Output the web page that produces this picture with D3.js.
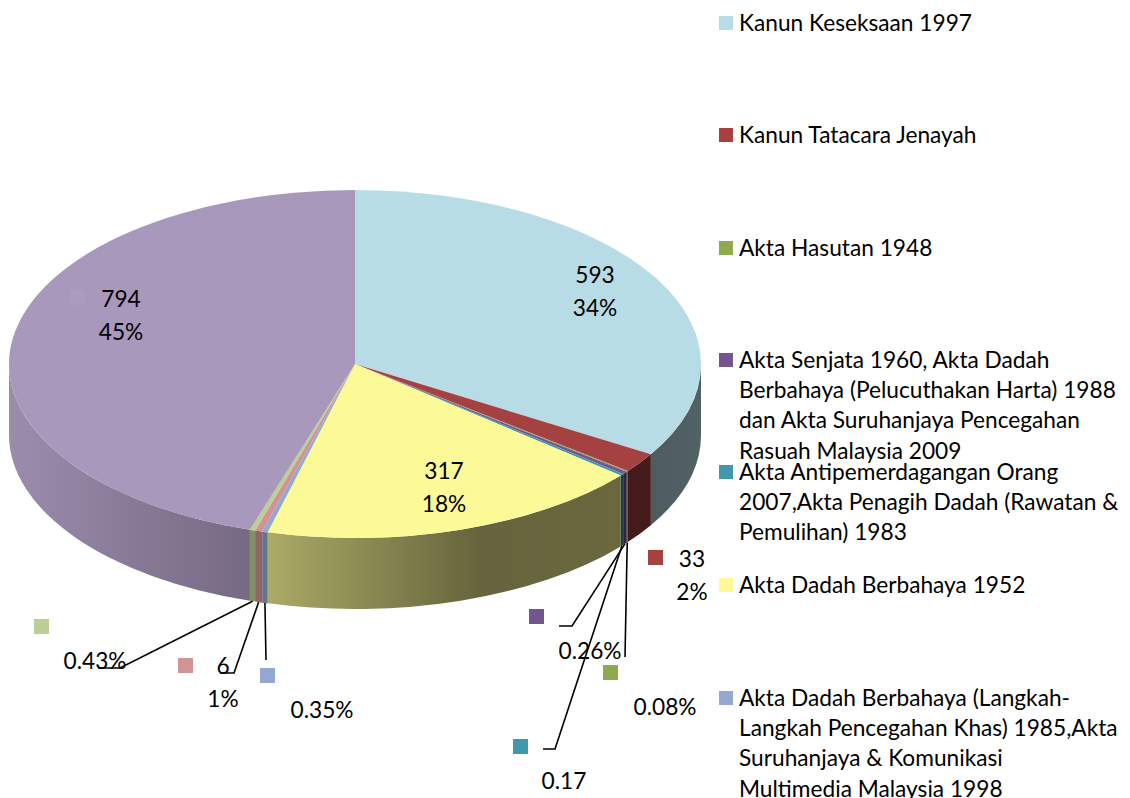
<!DOCTYPE html>
<html>
<head>
<meta charset="utf-8">
<script src="https://cdn.jsdelivr.net/npm/d3@7"></script>
<style>
  html, body { margin: 0; padding: 0; background: #fff; overflow: hidden; }
  text { font-family: Lato, "Open Sans", sans-serif; font-size: 22.7px; fill: #000; }
</style>
</head>
<body>
<div id="chart-area"></div>
<script>
// Data
var sliceNames = ["Kanun Keseksaan 1997", "Kanun Tatacara Jenayah", "Akta Hasutan 1948",
    "Akta Senjata", "Akta Antipemerdagangan", "Akta Dadah Berbahaya 1952",
    "Akta Dadah Berbahaya (Langkah)", "Lain 1", "Lain 2", "Lain 3"];
var sliceValues = [593, 33, 1.4, 4.6, 3, 317, 4.6, 6, 4.4, 794];
var sliceColors = ["#B7DCE6", "#A54141", "#8FA94F", "#72578E", "#4197AE",
    "#FCFA96", "#93A9D1", "#D19393", "#B9CF94", "#A898BB"];
var labelLines = [["593", "34%"], ["33", "2%"], ["0.08%"], ["0.26%"], ["0.17"],
    ["317", "18%"], ["0.35%"], ["6", "1%"], ["0.43%"], ["794", "45%"]];

var legendLines = [
    ["Kanun Keseksaan 1997"],
    ["Kanun Tatacara Jenayah"],
    ["Akta Hasutan 1948"],
    ["Akta Senjata 1960, Akta Dadah", "Berbahaya (Pelucuthakan Harta) 1988", "dan Akta Suruhanjaya Pencegahan", "Rasuah Malaysia 2009"],
    ["Akta Antipemerdagangan Orang", "2007,Akta Penagih Dadah (Rawatan &", "Pemulihan) 1983"],
    ["Akta Dadah Berbahaya 1952"],
    ["Akta Dadah Berbahaya (Langkah-", "Langkah Pencegahan Khas) 1985,Akta", "Suruhanjaya & Komunikasi", "Multimedia Malaysia 1998"]
];

// Layout
var width = 1130, height = 798;
var cx = 355, cy = 364, rx = 346, ry = 174, depth = 71;
var legendY = [23, 135, 248, 360, 472, 585, 698];
var labelPos = [[595, 275], [692, 559], [665, 707], [590, 651], [564, 781],
    [444, 471], [322, 710], [223, 666], [95, 661], [121, 299]];
var keyPos = [[544, 265], [648, 550], [603, 665], [529, 609], [513, 739],
    [392, 462], [260, 668], [178, 658], [34, 619], [70, 290]];
var leaderPts = { 2: [[625, 657]], 3: [[572, 626], [559, 626]], 4: [[555, 749], [543, 749]],
    6: [[266, 660]], 7: [[234, 673], [220, 673]], 8: [[120, 668], [98, 668]] };

var svg = d3.select("#chart-area")
    .append("svg")
        .attr("width", width)
        .attr("height", height)
        .style("display", "block");

var pie = d3.pie().sort(null).value(function(d){ return d; });
var arcs = pie(sliceValues);
var arc = d3.arc().innerRadius(0).outerRadius(rx);

function rim(angle, dy) {
    return [cx + rx * Math.sin(angle), cy - ry * Math.cos(angle) + (dy || 0)];
}

// Shading of the side wall, by x position
var shade = d3.scaleLinear()
    .domain([9, 270, 480, 650, 700])
    .range([0.92, 0.68, 0.40, 0.42, 0.44]);

var defs = svg.append("defs");
arcs.forEach(function(a, i){
    var grad = defs.append("linearGradient")
        .attr("id", "side" + i)
        .attr("gradientUnits", "userSpaceOnUse")
        .attr("x1", 9).attr("x2", 700).attr("y1", 0).attr("y2", 0);
    shade.domain().forEach(function(x){
        var c = d3.rgb(sliceColors[i]);
        var k = shade(x);
        grad.append("stop")
            .attr("offset", (x - 9) / 691)
            .attr("stop-color", d3.rgb(c.r * k, c.g * k, c.b * k).formatHex());
    });
});

// Side walls (only the front half can be seen)
var walls = svg.append("g");
arcs.forEach(function(a, i){
    var start = Math.max(a.startAngle, Math.PI / 2);
    var end = Math.min(a.endAngle, Math.PI * 1.5);
    if (start >= end) return;
    var p0 = rim(start), p1 = rim(end), p2 = rim(end, depth), p3 = rim(start, depth);
    walls.append("path")
        .attr("fill", "url(#side" + i + ")")
        .attr("d", "M" + p0 + "A" + rx + "," + ry + " 0 0 1 " + p1 +
            "L" + p2 + "A" + rx + "," + ry + " 0 0 0 " + p3 + "Z");
});

// Top of the pie
svg.append("g")
    .attr("transform", "translate(" + cx + "," + cy + ") scale(1," + (ry / rx) + ")")
    .selectAll("path")
    .data(arcs)
    .enter().append("path")
        .attr("d", arc)
        .attr("fill", function(d, i){ return sliceColors[i]; });

// Leader lines
var line = d3.line();
Object.keys(leaderPts).forEach(function(i){
    var a = arcs[i];
    var start = rim((a.startAngle + a.endAngle) / 2, depth);
    svg.append("path")
        .attr("d", line([start].concat(leaderPts[i])))
        .attr("fill", "none")
        .attr("stroke", "#000")
        .attr("stroke-width", 1.6);
});

// Data label keys
svg.append("g").selectAll("rect")
    .data(keyPos)
    .enter().append("rect")
        .attr("x", function(d){ return d[0]; })
        .attr("y", function(d){ return d[1]; })
        .attr("width", 15)
        .attr("height", 15)
        .attr("fill", function(d, i){
            // keys on top of their own slice are only a bit lighter
            var onPie = [0, 5, 9].indexOf(i) > -1;
            return onPie ? d3.interpolateRgb(sliceColors[i], "#fff")(0.03) : sliceColors[i];
        });

// Data labels
labelLines.forEach(function(lines, i){
    lines.forEach(function(t, j){
        svg.append("text")
            .attr("x", labelPos[i][0])
            .attr("y", labelPos[i][1] + j * 33)
            .attr("dy", "0.35em")
            .attr("text-anchor", "middle")
            .text(t);
    });
});

// Legend
legendLines.forEach(function(lines, i){
    svg.append("rect")
        .attr("x", 719)
        .attr("y", legendY[i] - 7)
        .attr("width", 14)
        .attr("height", 14)
        .attr("fill", sliceColors[i]);
    lines.forEach(function(t, j){
        svg.append("text")
            .attr("x", 739)
            .attr("y", legendY[i] + j * 30.2)
            .attr("dy", "0.35em")
            .text(t);
    });
});
</script>
</body>
</html>
